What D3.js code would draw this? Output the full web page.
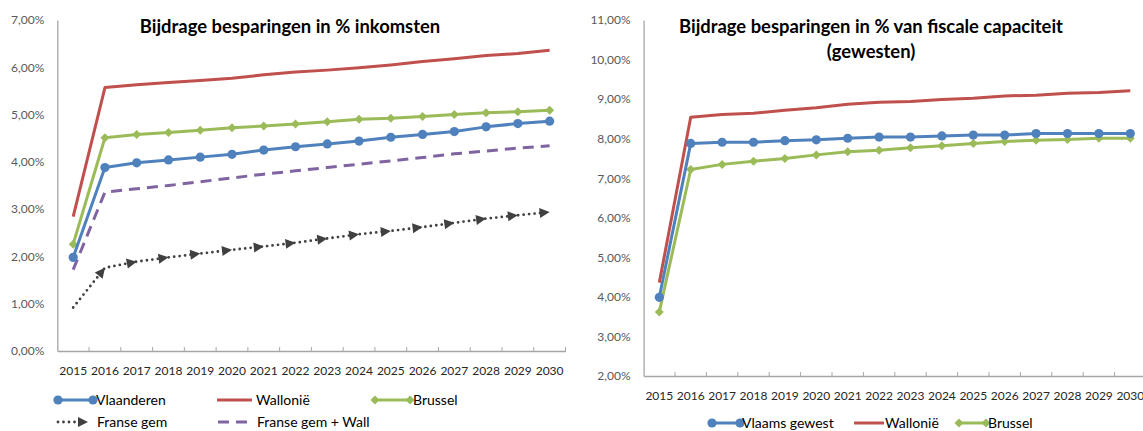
<!DOCTYPE html>
<html><head><meta charset="utf-8">
<script src="https://cdn.jsdelivr.net/npm/d3@7/dist/d3.min.js"></script>
<style>
body{margin:0;background:#fff;}
svg{display:block;font-family:Lato,"Open Sans",sans-serif;}
</style>
</head><body>
<svg id="c" width="1143" height="431"></svg>
<script>
// ---------- data ----------
const years = ["2015","2016","2017","2018","2019","2020","2021","2022","2023","2024","2025","2026","2027","2028","2029","2030"];

// left chart: % inkomsten
const leftTicks = [0,1,2,3,4,5,6,7];
const vlaanderen = [1.98,3.88,3.98,4.04,4.10,4.16,4.25,4.32,4.38,4.44,4.52,4.58,4.64,4.74,4.81,4.86];
const wallonie   = [2.84,5.57,5.63,5.68,5.72,5.77,5.84,5.90,5.94,5.99,6.05,6.12,6.18,6.25,6.29,6.36];
const brussel    = [2.26,4.51,4.58,4.62,4.67,4.72,4.76,4.80,4.85,4.90,4.92,4.96,5.00,5.04,5.06,5.09];
const fransegem  = [0.92,1.76,1.89,1.98,2.06,2.14,2.21,2.29,2.38,2.47,2.54,2.62,2.71,2.80,2.87,2.94];
const fransegemWall = [1.72,3.36,3.43,3.50,3.58,3.66,3.74,3.81,3.88,3.95,4.02,4.09,4.17,4.23,4.29,4.34];

// right chart: % fiscale capaciteit
const rightTicks = [2,3,4,5,6,7,8,9,10,11];
const vlaamsGewest = [3.99,7.88,7.91,7.91,7.95,7.97,8.01,8.04,8.04,8.07,8.09,8.09,8.13,8.13,8.13,8.13];
const wallonieR    = [4.36,8.54,8.61,8.64,8.72,8.78,8.87,8.92,8.94,8.99,9.02,9.08,9.10,9.15,9.17,9.21];
const brusselR     = [3.62,7.22,7.35,7.43,7.50,7.59,7.67,7.71,7.77,7.82,7.88,7.93,7.96,7.98,8.01,8.01];

const leftTitle = ["Bijdrage besparingen in % inkomsten"];
const rightTitle = ["Bijdrage besparingen in % van fiscale capaciteit", "(gewesten)"];

// ---------- styles ----------
const C = {blue:"#4F81BD", red:"#C0504D", green:"#9BBB59", purple:"#8064A2", dark:"#404040", axis:"#A6A6A6"};
const loc = d3.formatLocale({decimal:",", thousands:".", grouping:[3], currency:["€",""]});
const pct = v => loc.format(".2f")(v) + "%";

const svg = d3.select("#c");

function chart(cfg){
  const g = svg.append("g");
  const x = d3.scaleBand().domain(years).range([cfg.x0, cfg.x1]).padding(0);
  const y = d3.scaleLinear().domain(cfg.domain).range([cfg.yb, cfg.yt]);
  const cx = d => x(d) + x.bandwidth()/2;

  // y axis
  const ya = g.append("g").attr("transform",`translate(${cfg.x0},0)`)
    .call(d3.axisLeft(y).tickValues(cfg.ticks).tickSize(0).tickPadding(13).tickFormat(pct));
  ya.select(".domain").attr("stroke",C.axis).attr("stroke-width",1.3);
  ya.selectAll("text").attr("fill","#595959").style("font-size","12px").style("font-family","Lato");

  // x axis
  const xa = g.append("g").attr("transform",`translate(0,${cfg.yb})`)
    .call(d3.axisBottom(x).tickSize(0).tickPadding(15).tickSizeOuter(0));
  xa.select(".domain").attr("stroke",C.axis).attr("stroke-width",1.3);
  xa.selectAll("text").attr("fill","#262626").style("font-size","12px").style("font-family","Lato");
  // boundary ticks (pointing up)
  g.append("g").selectAll("line").data(years.slice(1).concat(["__end"])).join("line")
    .attr("x1", d => d==="__end" ? cfg.x1 : x(d)).attr("x2", d => d==="__end" ? cfg.x1 : x(d))
    .attr("y1", cfg.yb).attr("y2", cfg.yb-4)
    .attr("stroke",C.axis).attr("stroke-width",1);

  // title
  const t = g.append("text").attr("text-anchor","middle")
    .style("font-family","Lato").style("font-weight","bold").style("font-size","18.4px").attr("fill","#000");
  cfg.title.forEach((line,i)=>{
    t.append("tspan").attr("x",cfg.titleX).attr("y",cfg.titleY + i*25).text(line);
  });

  // series
  const line = d3.line().x((d,i)=>cx(years[i])).y(d=>y(d));
  cfg.series.forEach(s=>{
    const p = g.append("path").attr("d", line(s.values)).attr("fill","none")
      .attr("stroke", s.color).attr("stroke-width", 3).attr("stroke-linejoin","round");
    if (s.dash) p.attr("stroke-dasharray", s.dash);
    if (s.dot) p.attr("stroke-dasharray","0,5.5").attr("stroke-linecap","round").attr("stroke-width",2.8);
    drawMarkers(g, s, s.values.map((v,i)=>[cx(years[i]), y(v)]));
  });

  // legend
  cfg.legend.forEach(s=>{
    const lg = g.append("g");
    const l = lg.append("line").attr("x1",s.lx0).attr("x2",s.lx1).attr("y1",s.ly).attr("y2",s.ly)
      .attr("stroke",s.color).attr("stroke-width",3);
    if (s.dash) l.attr("stroke-dasharray", s.dash);
    if (s.dot) l.attr("stroke-dasharray","0,5.5").attr("stroke-linecap","round").attr("stroke-width",2.8);
    if (s.marker==="circle" || s.marker==="diamond") drawMarkers(lg, s, [[s.lx0,s.ly],[s.lx1,s.ly]]);
    if (s.marker==="tri") drawMarkers(lg, s, [[s.lx1-8,s.ly],[s.lx1+4,s.ly]]);
    lg.append("text").attr("x",s.tx).attr("y",s.ly).attr("dy","0.35em")
      .style("font-family","Lato").style("font-size","14px").attr("fill","#000").text(s.name);
  });
}

function drawMarkers(g, s, pts){
  if (s.marker==="circle"){
    g.append("g").selectAll("circle").data(pts).join("circle")
      .attr("cx",d=>d[0]).attr("cy",d=>d[1]).attr("r",4.6).attr("fill",s.color);
  } else if (s.marker==="diamond"){
    g.append("g").selectAll("path").data(pts).join("path")
      .attr("d",d=>`M${d[0]},${d[1]-4.5}L${d[0]+4.5},${d[1]}L${d[0]},${d[1]+4.5}L${d[0]-4.5},${d[1]}Z`)
      .attr("fill",s.color);
  } else if (s.marker==="tri"){
    // arrow-like triangles with tip at the point, oriented along incoming segment
    const tris = [];
    for (let i=1;i<pts.length;i++){
      const a = Math.atan2(pts[i][1]-pts[i-1][1], pts[i][0]-pts[i-1][0]);
      tris.push({x:pts[i][0], y:pts[i][1], a:a*180/Math.PI});
    }
    g.append("g").selectAll("path").data(tris).join("path")
      .attr("transform",d=>`translate(${d.x},${d.y}) rotate(${d.a})`)
      .attr("d","M0,0L-10,-5L-10,5Z").attr("fill",s.color);
  }
}

const S = {
  vl:{name:"Vlaanderen", values:vlaanderen, color:C.blue, marker:"circle"},
  wa:{name:"Wallonië", values:wallonie, color:C.red},
  br:{name:"Brussel", values:brussel, color:C.green, marker:"diamond"},
  fg:{name:"Franse gem", values:fransegem, color:C.dark, marker:"tri", dot:true},
  fw:{name:"Franse gem + Wall", values:fransegemWall, color:C.purple, dash:"11,7"}
};

chart({
  x0:57.3, x1:565.5, yb:351, yt:20, domain:[0,7], ticks:leftTicks,
  title:leftTitle, titleX:290, titleY:33,
  series:[S.fw, S.fg, S.br, S.wa, S.vl],
  legend:[
    Object.assign({}, S.vl, {lx0:58, lx1:93, ly:400, tx:96}),
    Object.assign({}, S.wa, {lx0:217, lx1:252, ly:400, tx:256}),
    Object.assign({}, S.br, {lx0:375, lx1:410, ly:400, tx:413}),
    Object.assign({}, S.fg, {lx0:58, lx1:84, ly:422, tx:97}),
    Object.assign({}, S.fw, {lx0:218, lx1:250, ly:422, tx:257})
  ]
});

const R = {
  vl:{name:"Vlaams gewest", values:vlaamsGewest, color:C.blue, marker:"circle"},
  wa:{name:"Wallonië", values:wallonieR, color:C.red},
  br:{name:"Brussel", values:brusselR, color:C.green, marker:"diamond"}
};

chart({
  x0:643.6, x1:1146, yb:376, yt:20, domain:[2,11], ticks:rightTicks,
  title:rightTitle, titleX:871, titleY:33,
  series:[R.br, R.wa, R.vl],
  legend:[
    Object.assign({}, R.vl, {lx0:712, lx1:740, ly:423, tx:742}),
    Object.assign({}, R.wa, {lx0:854, lx1:884, ly:423, tx:885}),
    Object.assign({}, R.br, {lx0:959, lx1:986, ly:423, tx:988})
  ]
});
</script>
</body></html>
